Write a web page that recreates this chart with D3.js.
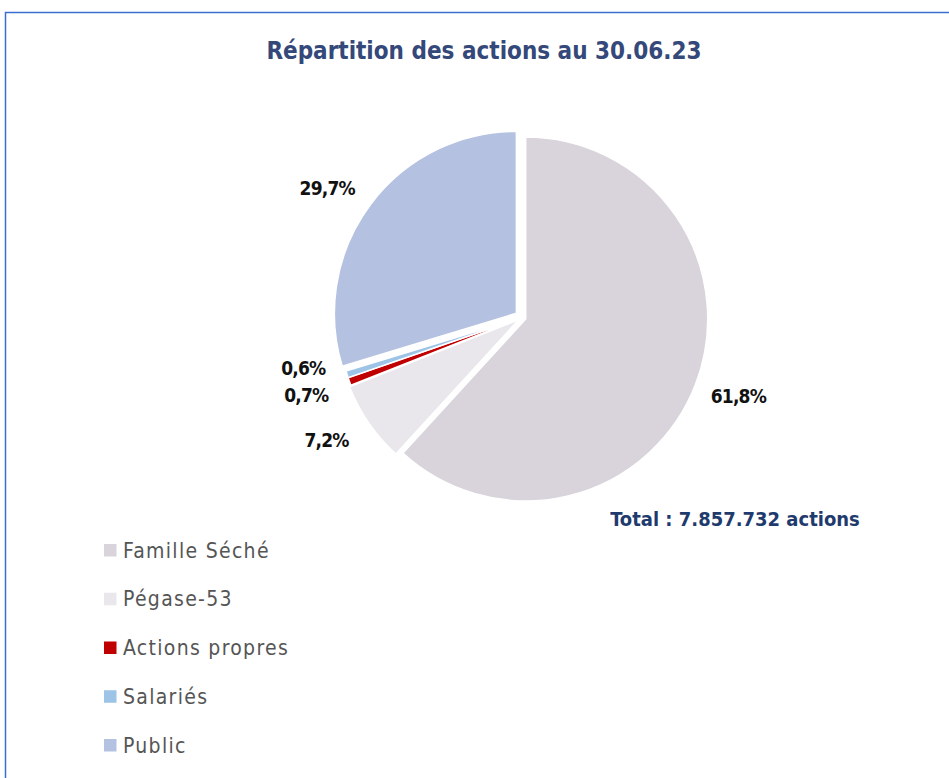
<!DOCTYPE html>
<html>
<head>
<meta charset="utf-8">
<script src="https://cdn.jsdelivr.net/npm/d3@7"></script>
<style>
  body { margin: 0; background: #fff; }
  text { font-family: 'DejaVu Sans Condensed', 'DejaVu Sans', sans-serif; }
</style>
</head>
<body>
<svg></svg>
<script>
const dims = { width: 949, height: 778 }

// data
const categories = ['Famille Séché', 'Pégase-53', 'Actions propres', 'Salariés', 'Public']
const shares = [61.8, 7.2, 0.7, 0.6, 29.7]
const labels = ['61,8%', '7,2%', '0,7%', '0,6%', '29,7%']
const colours = ['#d9d4db', '#e9e7eb', '#c00000', '#9dc3e6', '#b4c1e0']
const explode = [4, 4, 2, 2, 7]
// small label shifts so the outside labels sit where the original puts them
const labelNudge = [[2, -4], [-6, -8], [0, -2], [0, -20], [-10, 8]]

const svg = d3.select('svg')
  .attr('width', dims.width)
  .attr('height', dims.height)

// frame
svg.append('rect')
  .attr('x', 5.5).attr('y', 12.5)
  .attr('width', 1000).attr('height', 1000)
  .attr('fill', 'none')
  .attr('stroke', '#3a6fd0')
  .attr('stroke-width', 1.5)

svg.append('text')
  .attr('x', 484).attr('y', 59)
  .attr('text-anchor', 'middle')
  .attr('font-size', 24)
  .attr('font-weight', 'bold')
  .attr('fill', '#34487a')
  .text('Répartition des actions au 30.06.23')

const radius = 182
const pieG = svg.append('g').attr('transform', 'translate(522,317.5)')

const pie = d3.pie().sort(null).value(d => d.value)
const arcs = pie(categories.map((c, i) => ({ name: c, value: shares[i], i })))
const arc = d3.arc().innerRadius(0).outerRadius(radius)
const labelArc = d3.arc().innerRadius(230).outerRadius(230)

pieG.selectAll('path').data(arcs)
  .enter().append('path')
    .attr('fill', d => colours[d.data.i])
    .attr('stroke', '#fff')
    .attr('stroke-width', 1.5)
    .attr('transform', d => {
      const a = (d.startAngle + d.endAngle) / 2
      const k = explode[d.data.i]
      return `translate(${k * Math.sin(a)},${-k * Math.cos(a)})`
    })
    .attr('d', arc)

pieG.selectAll('text.lbl').data(arcs)
  .enter().append('text')
    .attr('class', 'lbl')
    .attr('x', d => labelArc.centroid(d)[0] + labelNudge[d.data.i][0])
    .attr('y', d => labelArc.centroid(d)[1] + labelNudge[d.data.i][1])
    .attr('dy', '0.35em')
    .attr('text-anchor', 'middle')
    .attr('font-size', 19)
    .attr('letter-spacing', -0.8)
    .attr('font-weight', 'bold')
    .attr('fill', '#111')
    .text(d => labels[d.data.i])

svg.append('text')
  .attr('x', 735).attr('y', 526)
  .attr('text-anchor', 'middle')
  .attr('font-size', 20)
  .attr('font-weight', 'bold')
  .attr('fill', '#1f3b6e')
  .text('Total : 7.857.732 actions')

// legend
const legend = svg.append('g')
const legendY = d3.scalePoint().domain(categories).range([550, 745])
const rows = legend.selectAll('g').data(categories)
  .enter().append('g')
    .attr('transform', d => `translate(104,${legendY(d)})`)
rows.append('rect')
  .attr('x', 0).attr('y', -6)
  .attr('width', 12.5).attr('height', 12.5)
  .attr('fill', (d, i) => colours[i])
rows.append('text')
  .attr('x', 19).attr('dy', '0.36em')
  .attr('font-size', 21)
  .attr('fill', '#555')
  .attr('letter-spacing', 1.3)
  .text(d => d)
</script>
</body>
</html>
